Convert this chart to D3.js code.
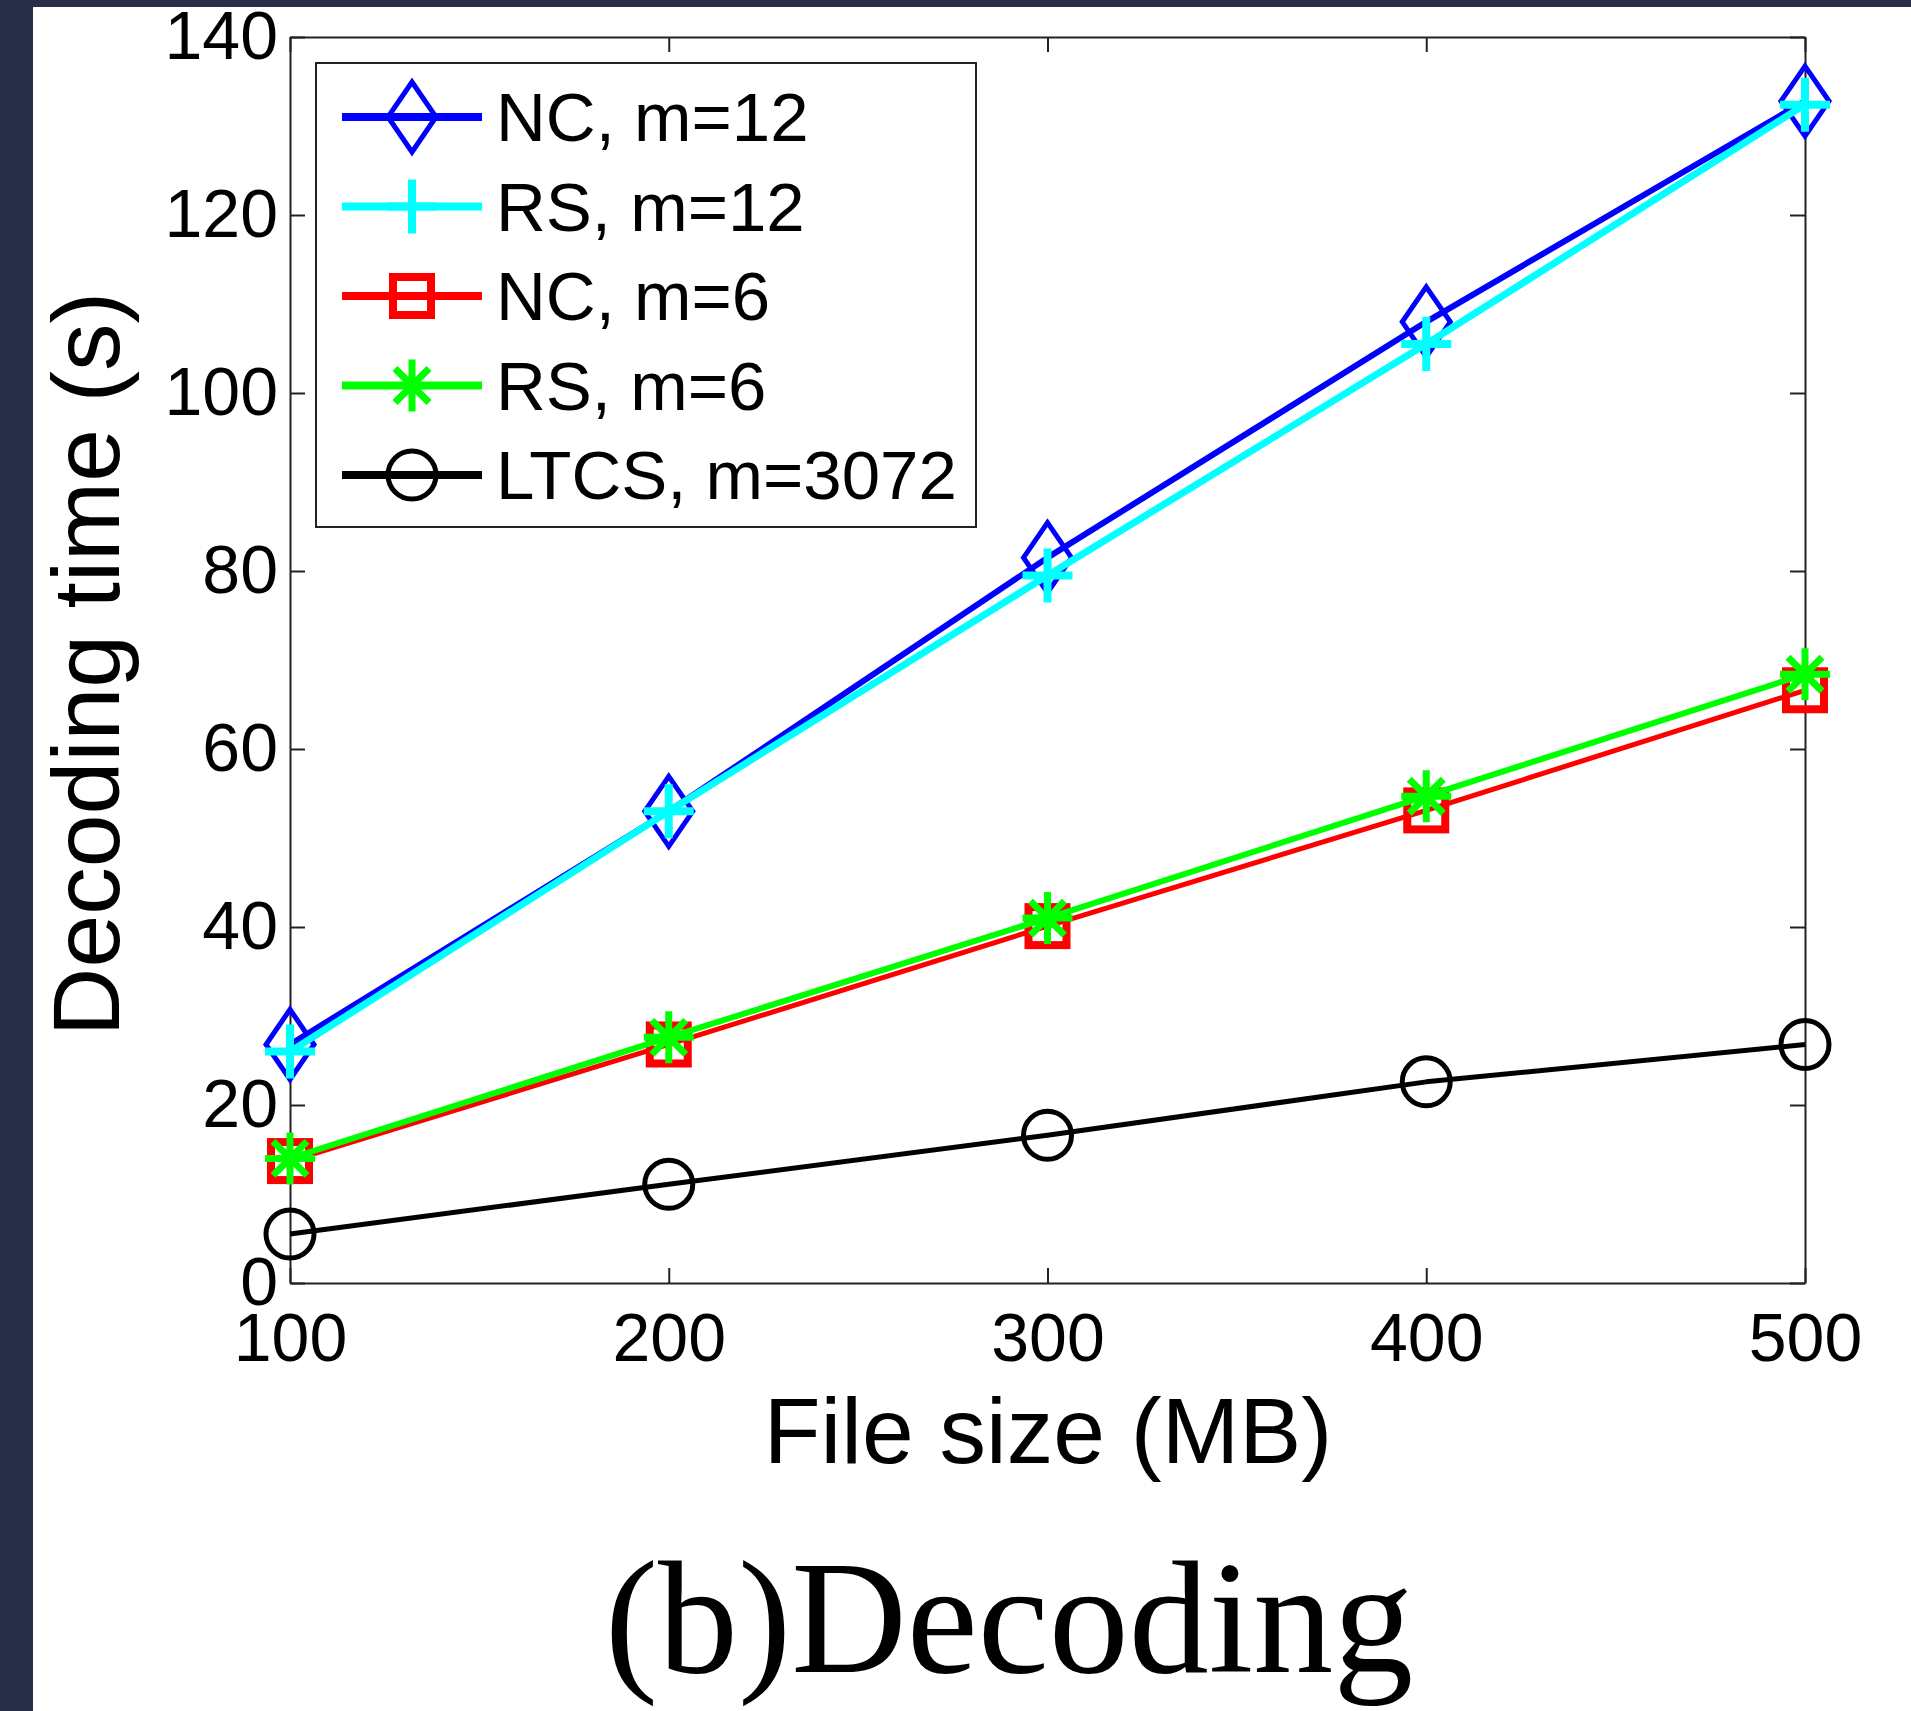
<!DOCTYPE html>
<html>
<head>
<meta charset="utf-8">
<script src="https://cdn.jsdelivr.net/npm/d3@7"></script>
<style>
  html, body { margin: 0; padding: 0; background: #fff; }
  svg { display: block; }
</style>
</head>
<body>
<div id="chart"></div>
<script>
// ---------- data
const fileSizes = [100, 200, 300, 400, 500]
const ncM12 = [26.8, 53, 81.5, 108, 132.8]
const rsM12 = [26, 53, 79.5, 105.5, 132.4]
const ncM6 = [13.7, 26.8, 40.1, 53.1, 66.6]
const rsM6 = [14, 27.6, 41, 54.7, 68.4]
const ltcs = [5.5, 11.1, 16.6, 22.6, 26.8]
const seriesNames = ["NC, m=12", "RS, m=12", "NC, m=6", "RS, m=6", "LTCS, m=3072"]
const xTicks = [100, 200, 300, 400, 500]
const yTicks = [0, 20, 40, 60, 80, 100, 120, 140]

const series = [
  { name: seriesNames[0], values: ncM12, color: "#0000ff", marker: "diamond", width: 6 },
  { name: seriesNames[1], values: rsM12, color: "#00ffff", marker: "plus", width: 7 },
  { name: seriesNames[2], values: ncM6, color: "#ff0000", marker: "square", width: 5 },
  { name: seriesNames[3], values: rsM6, color: "#00ff00", marker: "star", width: 6 },
  { name: seriesNames[4], values: ltcs, color: "#000000", marker: "circle", width: 5 }
]

// ---------- dimensions
const dims = { width: 1911, height: 1711, left: 290, right: 1805, top: 37, bottom: 1283 }

const svg = d3.select("#chart").append("svg")
  .attr("width", dims.width)
  .attr("height", dims.height)

// page frame (dark strips left/top)
svg.append("rect").attr("width", dims.width).attr("height", dims.height).attr("fill", "#fff")
svg.append("rect").attr("x", 0).attr("y", 0).attr("width", 33).attr("height", dims.height).attr("fill", "#292e48")
svg.append("rect").attr("x", 0).attr("y", 0).attr("width", dims.width).attr("height", 7).attr("fill", "#292e48")

// ---------- scales
const xScale = d3.scaleLinear().domain([100, 500]).range([dims.left, dims.right])
const yScale = d3.scaleLinear().domain([0, 140]).range([dims.bottom, dims.top])

const font = "'Liberation Sans', Arial, sans-serif"

// ---------- axes (MATLAB style box with inward ticks)
const tickLen = 15
const axisG = svg.append("g").attr("class", "axes")

axisG.append("g")
  .attr("transform", `translate(0,${dims.bottom})`)
  .call(d3.axisBottom(xScale).tickValues(xTicks).tickSizeInner(-tickLen).tickSizeOuter(0).tickPadding(30))
axisG.append("g")
  .attr("transform", `translate(0,${dims.top})`)
  .call(d3.axisTop(xScale).tickValues(xTicks).tickSizeInner(-tickLen).tickSizeOuter(0).tickFormat(""))
axisG.append("g")
  .attr("transform", `translate(${dims.left},0)`)
  .call(d3.axisLeft(yScale).tickValues(yTicks).tickSizeInner(-tickLen).tickSizeOuter(0).tickPadding(12))
axisG.append("g")
  .attr("transform", `translate(${dims.right},0)`)
  .call(d3.axisRight(yScale).tickValues(yTicks).tickSizeInner(-tickLen).tickSizeOuter(0).tickFormat(""))

axisG.selectAll("path.domain").attr("stroke", "#222").attr("stroke-width", 2)
axisG.selectAll(".tick line").attr("stroke", "#222").attr("stroke-width", 2)
axisG.selectAll(".tick text")
  .attr("fill", "#000")
  .style("font-family", font)
  .style("font-size", "68px")

// ---------- markers
function drawMarker(g, type, color) {
  if (type === "diamond") {
    g.append("path").attr("d", "M0,-35L24,0L0,35L-24,0Z")
      .attr("fill", "none").attr("stroke", color).attr("stroke-width", 5)
  } else if (type === "plus") {
    g.append("path").attr("d", "M-25,0H25M0,-27V27")
      .attr("stroke", color).attr("stroke-width", 8)
  } else if (type === "square") {
    g.append("rect").attr("x", -19).attr("y", -19).attr("width", 38).attr("height", 38)
      .attr("fill", "none").attr("stroke", color).attr("stroke-width", 8)
  } else if (type === "star") {
    g.append("path").attr("d", "M-25,0H25M0,-26V26M-17,-17L17,17M-17,17L17,-17")
      .attr("stroke", color).attr("stroke-width", 7)
  } else if (type === "circle") {
    g.append("circle").attr("r", 24)
      .attr("fill", "none").attr("stroke", color).attr("stroke-width", 5)
  }
}

// ---------- lines
const lineGen = d3.line()
  .x((d, i) => xScale(fileSizes[i]))
  .y(d => yScale(d))

const plotG = svg.append("g").attr("class", "plot")

series.forEach(s => {
  plotG.append("path")
    .attr("d", lineGen(s.values))
    .attr("fill", "none")
    .attr("stroke", s.color)
    .attr("stroke-width", s.width)
    .attr("stroke-linejoin", "round")
  s.values.forEach((v, i) => {
    const g = plotG.append("g").attr("transform", `translate(${xScale(fileSizes[i])},${yScale(v)})`)
    drawMarker(g, s.marker, s.color)
  })
})

// ---------- legend
const legend = { x: 316, y: 63, w: 660, h: 464, rowY: 117, rowStep: 89.5 }
const legendG = svg.append("g").attr("class", "legend")
legendG.append("rect")
  .attr("x", legend.x).attr("y", legend.y)
  .attr("width", legend.w).attr("height", legend.h)
  .attr("fill", "#fff").attr("stroke", "#222").attr("stroke-width", 2)

series.forEach((s, i) => {
  const cy = legend.rowY + i * legend.rowStep
  legendG.append("line")
    .attr("x1", 342).attr("x2", 482).attr("y1", cy).attr("y2", cy)
    .attr("stroke", s.color).attr("stroke-width", 8)
  const g = legendG.append("g").attr("transform", `translate(412,${cy})`)
  drawMarker(g, s.marker, s.color)
  legendG.append("text")
    .attr("x", 496).attr("y", cy)
    .attr("dy", "0.35em")
    .text(s.name)
    .style("font-family", font)
    .style("font-size", "69px")
    .attr("fill", "#000")
})

// ---------- axis labels
svg.append("text")
  .attr("x", 1048).attr("y", 1463)
  .attr("text-anchor", "middle")
  .text("File size (MB)")
  .style("font-family", font)
  .style("font-size", "93px")

svg.append("text")
  .attr("transform", "translate(119,664) rotate(-90)")
  .attr("text-anchor", "middle")
  .text("Decoding time (s)")
  .style("font-family", font)
  .style("font-size", "95px")

// ---------- caption
svg.append("text")
  .attr("x", 1009).attr("y", 1672)
  .attr("text-anchor", "middle")
  .text("(b)Decoding")
  .style("font-family", "'Liberation Serif', 'Times New Roman', serif")
  .style("font-size", "160px")
</script>
</body>
</html>
